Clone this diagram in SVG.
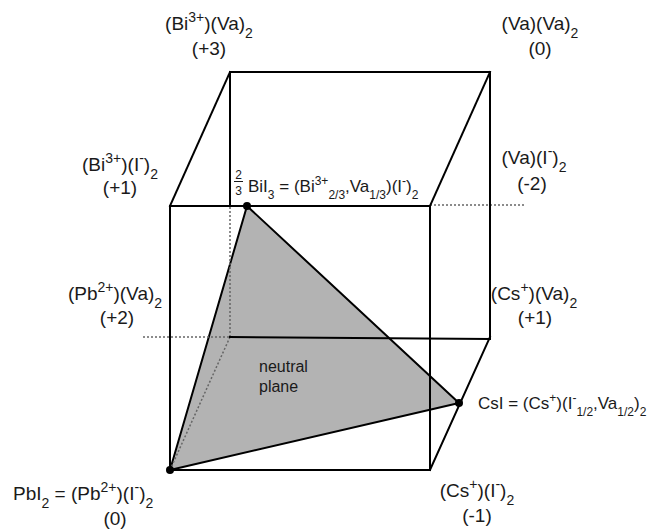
<svg xmlns="http://www.w3.org/2000/svg" width="648" height="529" viewBox="0 0 648 529">
<style>
.e{stroke:#000;stroke-width:2;fill:none;stroke-linecap:square}
.d{stroke:#666;stroke-width:1.5;fill:none;stroke-dasharray:2 2}
.t{font-family:"Liberation Sans",Arial,sans-serif;font-size:19px;fill:#1a1a1a}
.s{font-family:"Liberation Sans",Arial,sans-serif;font-size:17px;fill:#1a1a1a}
.n{font-family:"Liberation Sans",Arial,sans-serif;font-size:16px;fill:#1a1a1a}
.f{font-family:"Liberation Sans",Arial,sans-serif;font-size:12px;fill:#1a1a1a}
.p{fill:#000}
</style>
<rect width="648" height="529" fill="#fff"/>
<g id="plane">
<polygon points="247,206 459,403 170,470" fill="#b3b3b3" stroke="#000" stroke-width="2" stroke-linejoin="round"/>
<text class="n" x="259" y="372">neutral</text>
<text class="n" x="259" y="392">plane</text>
</g>
<g id="connectors">
<line class="d" x1="230" y1="207" x2="230" y2="337"/>
<line class="d" x1="143" y1="337" x2="230" y2="337"/>
<line class="d" x1="230" y1="337" x2="170" y2="470"/>
<line class="d" x1="430" y1="205" x2="525" y2="205"/>
<line class="e" x1="230" y1="72" x2="230" y2="206"/>
<line class="e" x1="230" y1="72" x2="490" y2="72"/>
<line class="e" x1="490" y1="72" x2="490" y2="337"/>
<line class="e" x1="230" y1="337" x2="490" y2="339"/>
<line class="e" x1="170" y1="206" x2="230" y2="72"/>
<line class="e" x1="430" y1="206" x2="490" y2="72"/>
<line class="e" x1="430" y1="470" x2="490" y2="337"/>
<rect class="e" x="170" y="206" width="260" height="264"/>
</g>
<g id="pts">
<circle class="p" cx="247" cy="206" r="4"/>
<circle class="p" cx="459" cy="403" r="4"/>
<circle class="p" cx="170" cy="470" r="4"/>
</g>
<g id="bi-va">
<text class="t" x="209" y="30" text-anchor="middle">(Bi<tspan font-size="14" baseline-shift="super">3+</tspan>)(Va)<tspan font-size="14" baseline-shift="sub">2</tspan></text>
<text class="t" x="209" y="55" text-anchor="middle">(+3)</text>
</g>
<g id="va-va">
<text class="t" x="540" y="30" text-anchor="middle">(Va)(Va)<tspan font-size="14" baseline-shift="sub">2</tspan></text>
<text class="t" x="540" y="55" text-anchor="middle">(0)</text>
</g>
<g id="bi-i">
<text class="t" x="120" y="171" text-anchor="middle">(Bi<tspan font-size="14" baseline-shift="super">3+</tspan>)(I<tspan font-size="14" baseline-shift="super">-</tspan>)<tspan font-size="14" baseline-shift="sub">2</tspan></text>
<text class="t" x="120" y="194" text-anchor="middle">(+1)</text>
</g>
<g id="va-i">
<text class="t" x="534" y="164" text-anchor="middle">(Va)(I<tspan font-size="14" baseline-shift="super">-</tspan>)<tspan font-size="14" baseline-shift="sub">2</tspan></text>
<text class="t" x="532" y="190" text-anchor="middle">(-2)</text>
</g>
<g id="bii3">
<text class="f" x="238.5" y="179" text-anchor="middle">2</text>
<line x1="234" y1="181.5" x2="243" y2="181.5" stroke="#1a1a1a" stroke-width="1"/>
<text class="f" x="238.5" y="195" text-anchor="middle">3</text>
<text class="s" x="248" y="192">BiI<tspan font-size="12" baseline-shift="sub">3</tspan> = (Bi<tspan font-size="12" baseline-shift="super">3+</tspan><tspan font-size="12" baseline-shift="sub">2/3</tspan>,Va<tspan font-size="12" baseline-shift="sub">1/3</tspan>)(I<tspan font-size="12" baseline-shift="super">-</tspan>)<tspan font-size="12" baseline-shift="sub">2</tspan></text>
</g>
<g id="pb-va">
<text class="t" x="115" y="300" text-anchor="middle">(Pb<tspan font-size="14" baseline-shift="super">2+</tspan>)(Va)<tspan font-size="14" baseline-shift="sub">2</tspan></text>
<text class="t" x="117" y="324" text-anchor="middle">(+2)</text>
</g>
<g id="cs-va">
<text class="t" x="534" y="300" text-anchor="middle">(Cs<tspan font-size="14" baseline-shift="super">+</tspan>)(Va)<tspan font-size="14" baseline-shift="sub">2</tspan></text>
<text class="t" x="535" y="324" text-anchor="middle">(+1)</text>
</g>
<g id="csi">
<text class="s" x="478" y="409">CsI = (Cs<tspan font-size="12" baseline-shift="super">+</tspan>)(I<tspan font-size="12" baseline-shift="super">-</tspan><tspan font-size="12" baseline-shift="sub">1/2</tspan>,Va<tspan font-size="12" baseline-shift="sub">1/2</tspan>)<tspan font-size="12" baseline-shift="sub">2</tspan></text>
</g>
<g id="pbi2">
<text class="t" x="13" y="500">PbI<tspan font-size="14" baseline-shift="sub">2</tspan> = (Pb<tspan font-size="14" baseline-shift="super">2+</tspan>)(I<tspan font-size="14" baseline-shift="super">-</tspan>)<tspan font-size="14" baseline-shift="sub">2</tspan></text>
<text class="t" x="115" y="525" text-anchor="middle">(0)</text>
</g>
<g id="cs-i">
<text class="t" x="477" y="497" text-anchor="middle">(Cs<tspan font-size="14" baseline-shift="super">+</tspan>)(I<tspan font-size="14" baseline-shift="super">-</tspan>)<tspan font-size="14" baseline-shift="sub">2</tspan></text>
<text class="t" x="477" y="522" text-anchor="middle">(-1)</text>
</g>
</svg>
